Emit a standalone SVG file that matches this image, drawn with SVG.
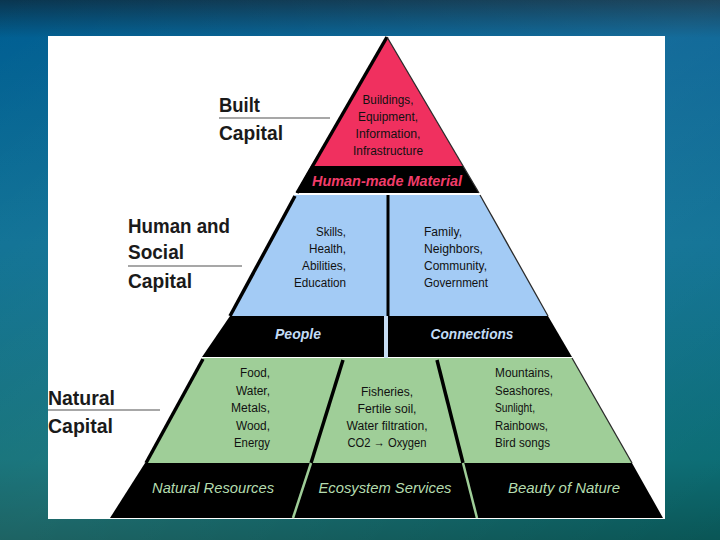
<svg xmlns="http://www.w3.org/2000/svg" width="720" height="540" viewBox="0 0 720 540">
  <defs>
    <linearGradient id="bg" x1="0" y1="0" x2="0" y2="1">
      <stop offset="0" stop-color="#0a3650"/>
      <stop offset="0.07" stop-color="#005f92"/>
      <stop offset="0.45" stop-color="#0b6f93"/>
      <stop offset="0.85" stop-color="#0a6c74"/>
      <stop offset="1" stop-color="#0a5656"/>
    </linearGradient>
    <linearGradient id="sheen" x1="0" y1="0" x2="1" y2="1">
      <stop offset="0" stop-color="#ffffff" stop-opacity="0"/>
      <stop offset="0.5" stop-color="#ffffff" stop-opacity="0.08"/>
      <stop offset="1" stop-color="#ffffff" stop-opacity="0"/>
    </linearGradient>
  </defs>
  <style>
    text { font-family: "Liberation Sans Narrow", "Liberation Sans", Arial, sans-serif; }
    .cap { font-size: 21px; font-weight: bold; fill: #1a1a1a; }
    .sm { font-size: 12.5px; fill: #111; }
    .band { font-size: 14.5px; font-style: italic; }
    .pinkT { fill: #f23c6a; font-weight: bold; }
    .blueT { fill: #c3dcf6; font-weight: bold; }
    .greenT { fill: #b4dcae; }
    .rule { stroke: #8a8a8a; stroke-width: 1.5; }
    .edgeL { stroke: #000; stroke-width: 3.5; fill: none; }
    .edgeR { stroke: #2a2a2a; stroke-width: 1.3; fill: none; }
  </style>

  <!-- background -->
  <rect x="0" y="0" width="720" height="540" fill="url(#bg)"/>
  <rect x="0" y="0" width="720" height="540" fill="url(#sheen)"/>
  <rect x="48" y="36" width="617" height="483" fill="#ffffff"/>

  <!-- Built capital tier -->
  <g id="built-capital">
    <polygon points="387,37 311,166 463,166" fill="#f0305f"/>
    <polygon points="311,166 463,166 479,193 296,193" fill="#000"/>
    <line class="edgeL" x1="387" y1="37" x2="297" y2="193"/>
    <line class="edgeR" x1="387" y1="37" x2="479" y2="193"/>
    <text class="sm" x="388" y="104" text-anchor="middle" textLength="51" lengthAdjust="spacingAndGlyphs">Buildings,</text>
    <text class="sm" x="388" y="121" text-anchor="middle" textLength="60" lengthAdjust="spacingAndGlyphs">Equipment,</text>
    <text class="sm" x="388" y="138" text-anchor="middle" textLength="65" lengthAdjust="spacingAndGlyphs">Information,</text>
    <text class="sm" x="388" y="155" text-anchor="middle" textLength="70" lengthAdjust="spacingAndGlyphs">Infrastructure</text>
    <text class="band pinkT" x="387" y="186" text-anchor="middle" textLength="150" lengthAdjust="spacingAndGlyphs">Human-made Material</text>
  </g>

  <!-- Human and social capital tier -->
  <g id="human-social-capital">
    <polygon points="295,195 480,195 548,316 230,316" fill="#a3cbf5"/>
    <polygon points="230,316 548,316 572,357 202,357" fill="#000"/>
    <line class="edgeL" x1="295" y1="196" x2="230" y2="316"/>
    <line class="edgeR" x1="480" y1="195" x2="548" y2="316"/>
    <text class="sm" x="346" y="236" text-anchor="end" textLength="30" lengthAdjust="spacingAndGlyphs">Skills,</text>
    <text class="sm" x="346" y="253" text-anchor="end" textLength="37" lengthAdjust="spacingAndGlyphs">Health,</text>
    <text class="sm" x="346" y="270" text-anchor="end" textLength="44" lengthAdjust="spacingAndGlyphs">Abilities,</text>
    <text class="sm" x="346" y="287" text-anchor="end" textLength="52" lengthAdjust="spacingAndGlyphs">Education</text>
    <text class="sm" x="424" y="236" textLength="38" lengthAdjust="spacingAndGlyphs">Family,</text>
    <text class="sm" x="424" y="253" textLength="59" lengthAdjust="spacingAndGlyphs">Neighbors,</text>
    <text class="sm" x="424" y="270" textLength="63" lengthAdjust="spacingAndGlyphs">Community,</text>
    <text class="sm" x="424" y="287" textLength="64" lengthAdjust="spacingAndGlyphs">Government</text>
    <text class="band blueT" x="298" y="339" text-anchor="middle" textLength="46" lengthAdjust="spacingAndGlyphs">People</text>
    <text class="band blueT" x="472" y="339" text-anchor="middle" textLength="83" lengthAdjust="spacingAndGlyphs">Connections</text>
  </g>

  <!-- Natural capital tier -->
  <g id="natural-capital">
    <polygon points="203,358 572,358 632,463 145,463" fill="#9fce98"/>
    <polygon points="145,463 632,463 663,518 110,518" fill="#000"/>
    <line class="edgeL" x1="203" y1="359" x2="146" y2="463"/>
    <line class="edgeR" x1="572" y1="358" x2="632" y2="463"/>
    <text class="sm" x="270" y="377" text-anchor="end" textLength="30" lengthAdjust="spacingAndGlyphs">Food,</text>
    <text class="sm" x="270" y="394.5" text-anchor="end" textLength="34" lengthAdjust="spacingAndGlyphs">Water,</text>
    <text class="sm" x="270" y="412" text-anchor="end" textLength="39" lengthAdjust="spacingAndGlyphs">Metals,</text>
    <text class="sm" x="270" y="429.5" text-anchor="end" textLength="34" lengthAdjust="spacingAndGlyphs">Wood,</text>
    <text class="sm" x="270" y="447" text-anchor="end" textLength="36" lengthAdjust="spacingAndGlyphs">Energy</text>
    <text class="sm" x="387" y="396" text-anchor="middle" textLength="52" lengthAdjust="spacingAndGlyphs">Fisheries,</text>
    <text class="sm" x="387" y="413" text-anchor="middle" textLength="59" lengthAdjust="spacingAndGlyphs">Fertile soil,</text>
    <text class="sm" x="387" y="430" text-anchor="middle" textLength="81" lengthAdjust="spacingAndGlyphs">Water filtration,</text>
    <text class="sm" x="387" y="447" text-anchor="middle" textLength="79" lengthAdjust="spacingAndGlyphs">CO2 → Oxygen</text>
    <text class="sm" x="495" y="377" textLength="58" lengthAdjust="spacingAndGlyphs">Mountains,</text>
    <text class="sm" x="495" y="394.5" textLength="58" lengthAdjust="spacingAndGlyphs">Seashores,</text>
    <text class="sm" x="495" y="412" textLength="40" lengthAdjust="spacingAndGlyphs">Sunlight,</text>
    <text class="sm" x="495" y="429.5" textLength="53" lengthAdjust="spacingAndGlyphs">Rainbows,</text>
    <text class="sm" x="495" y="447" textLength="55" lengthAdjust="spacingAndGlyphs">Bird songs</text>
    <text class="band greenT" x="213" y="493" text-anchor="middle" textLength="122" lengthAdjust="spacingAndGlyphs">Natural Resources</text>
    <text class="band greenT" x="385" y="493" text-anchor="middle" textLength="133" lengthAdjust="spacingAndGlyphs">Ecosystem Services</text>
    <text class="band greenT" x="564" y="493" text-anchor="middle" textLength="112" lengthAdjust="spacingAndGlyphs">Beauty of Nature</text>
  </g>

  <!-- dividers -->
  <g id="connectors">
    <line x1="388" y1="195" x2="388" y2="316" stroke="#000" stroke-width="3"/>
    <line x1="386" y1="316" x2="386" y2="358" stroke="#c6dcf2" stroke-width="4"/>
    <line x1="343" y1="360" x2="311" y2="463" stroke="#000" stroke-width="3.5"/>
    <line x1="311" y1="463" x2="293" y2="518" stroke="#9fce98" stroke-width="2.5"/>
    <line x1="437" y1="360" x2="463" y2="463" stroke="#000" stroke-width="3.5"/>
    <line x1="463" y1="463" x2="477" y2="518" stroke="#9fce98" stroke-width="2.5"/>
  </g>

  <!-- side labels -->
  <g id="label-built">
    <text class="cap" x="219" y="112" textLength="41" lengthAdjust="spacingAndGlyphs">Built</text>
    <line class="rule" x1="219" y1="118" x2="330" y2="118"/>
    <text class="cap" x="219" y="140" textLength="64" lengthAdjust="spacingAndGlyphs">Capital</text>
  </g>
  <g id="label-human">
    <text class="cap" x="128" y="233" textLength="102" lengthAdjust="spacingAndGlyphs">Human and</text>
    <text class="cap" x="128" y="259" textLength="56" lengthAdjust="spacingAndGlyphs">Social</text>
    <line class="rule" x1="128" y1="266" x2="242" y2="266"/>
    <text class="cap" x="128" y="288" textLength="64" lengthAdjust="spacingAndGlyphs">Capital</text>
  </g>
  <g id="label-natural">
    <text class="cap" x="48" y="405" textLength="67" lengthAdjust="spacingAndGlyphs">Natural</text>
    <line class="rule" x1="48" y1="410" x2="160" y2="410"/>
    <text class="cap" x="48" y="433" textLength="65" lengthAdjust="spacingAndGlyphs">Capital</text>
  </g>
</svg>
